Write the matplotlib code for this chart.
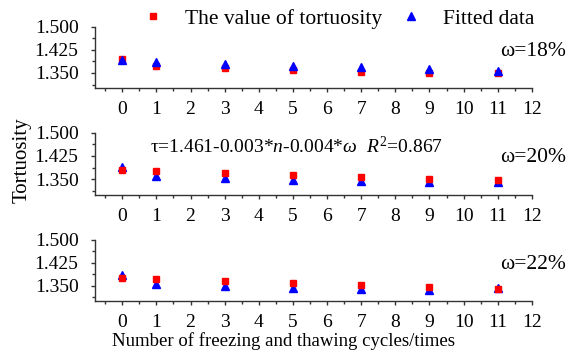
import matplotlib
matplotlib.use("Agg")
import matplotlib.pyplot as plt
from matplotlib.ticker import FixedLocator, MultipleLocator

plt.rcParams['font.family'] = ['Liberation Serif', 'DejaVu Serif']
plt.rcParams['mathtext.fontset'] = 'custom'
plt.rcParams['mathtext.rm'] = 'Liberation Serif'
plt.rcParams['mathtext.it'] = 'Liberation Serif:italic'

# freeze-thaw cycles
cycles = [0, 1, 3, 5, 7, 9, 11]
moisture = ["18%", "20%", "22%"]

# measured tortuosity for each moisture content
measured_18 = [1.395, 1.371, 1.366, 1.361, 1.353, 1.350, 1.350]
measured_20 = [1.380, 1.377, 1.371, 1.364, 1.358, 1.351, 1.348]
measured_22 = [1.374, 1.371, 1.366, 1.360, 1.352, 1.347, 1.339]

# values from the regression model
fitted_18 = [1.391, 1.387, 1.378, 1.373, 1.368, 1.363, 1.357]
fitted_20 = [1.391, 1.361, 1.355, 1.348, 1.343, 1.341, 1.341]
fitted_22 = [1.385, 1.355, 1.350, 1.342, 1.338, 1.336, 1.341]

measured = [measured_18, measured_20, measured_22]
fitted = [fitted_18, fitted_20, fitted_22]

fig = plt.figure(figsize=(5.82, 3.52), dpi=100)
panels = [[0.1632, 0.749, 0.7506, 0.175],
          [0.1632, 0.4466, 0.7506, 0.1764],
          [0.1632, 0.1449, 0.7506, 0.1742]]

fs = 14
for i, pos in enumerate(panels):
    ax = fig.add_axes(pos)
    if i == 0:
        ax.plot(cycles, measured[i], 's', color='red', ms=4.5, label='The value of tortuosity', zorder=2)
        ax.plot(cycles, fitted[i], '^', color='blue', ms=6, label='Fitted data', zorder=3)
    else:
        ax.plot(cycles, fitted[i], '^', color='blue', ms=6, zorder=2)
        ax.plot(cycles, measured[i], 's', color='red', ms=4.5, zorder=3)
    ax.set_xlim(-0.8, 12)
    ax.set_ylim(1.30, 1.50)
    ax.xaxis.set_major_locator(MultipleLocator(1))
    ax.xaxis.set_minor_locator(MultipleLocator(0.5))
    ax.yaxis.set_major_locator(FixedLocator([1.350, 1.425, 1.500]))
    ax.yaxis.set_minor_locator(FixedLocator([1.3125, 1.3875, 1.4625]))
    ax.yaxis.set_major_formatter(lambda v, p: f"{v:.3f}")
    ax.spines['top'].set_visible(False)
    ax.spines['right'].set_visible(False)
    for s in ('left', 'bottom'):
        ax.spines[s].set_color('#333333')
        ax.spines[s].set_linewidth(1.0)
    ax.tick_params(which='major', direction='out', length=2.8, width=1.0, color='#333333',
                   labelsize=fs)
    ax.tick_params(which='minor', direction='out', length=2.0, width=1.0, color='#333333')
    ax.tick_params(axis='x', which='major', pad=6.5)
    ax.tick_params(axis='y', which='major', pad=9)
    ax.patch.set_visible(False)
    ax.text(1.078, 0.6, "ω=" + moisture[i], transform=ax.transAxes, fontsize=15.5,
            ha='right', va='center')
    if i == 0:
        fig.legend(loc='center', bbox_to_anchor=(0.572, 0.947), ncol=2, frameon=False,
                   fontsize=15.5, handlelength=2.0, handletextpad=0.5, columnspacing=0.3,
                   borderpad=0, borderaxespad=0)
    if i == 1:
        ax.text(0.461, 0.77, r"τ=1.461-0.003*$\mathit{n}$-0.004*$\mathit{\omega}$  $\mathit{R}^2$=0.867",
                transform=ax.transAxes, fontsize=14, ha='center', va='center')

fig.text(0.038, 0.545, "Tortuosity", rotation=90, fontsize=15, ha='center', va='center')
fig.text(0.487, 0.031, "Number of freezing and thawing cycles/times", fontsize=13.5,
         ha='center', va='center')

fig.savefig("out.png", dpi=100)
